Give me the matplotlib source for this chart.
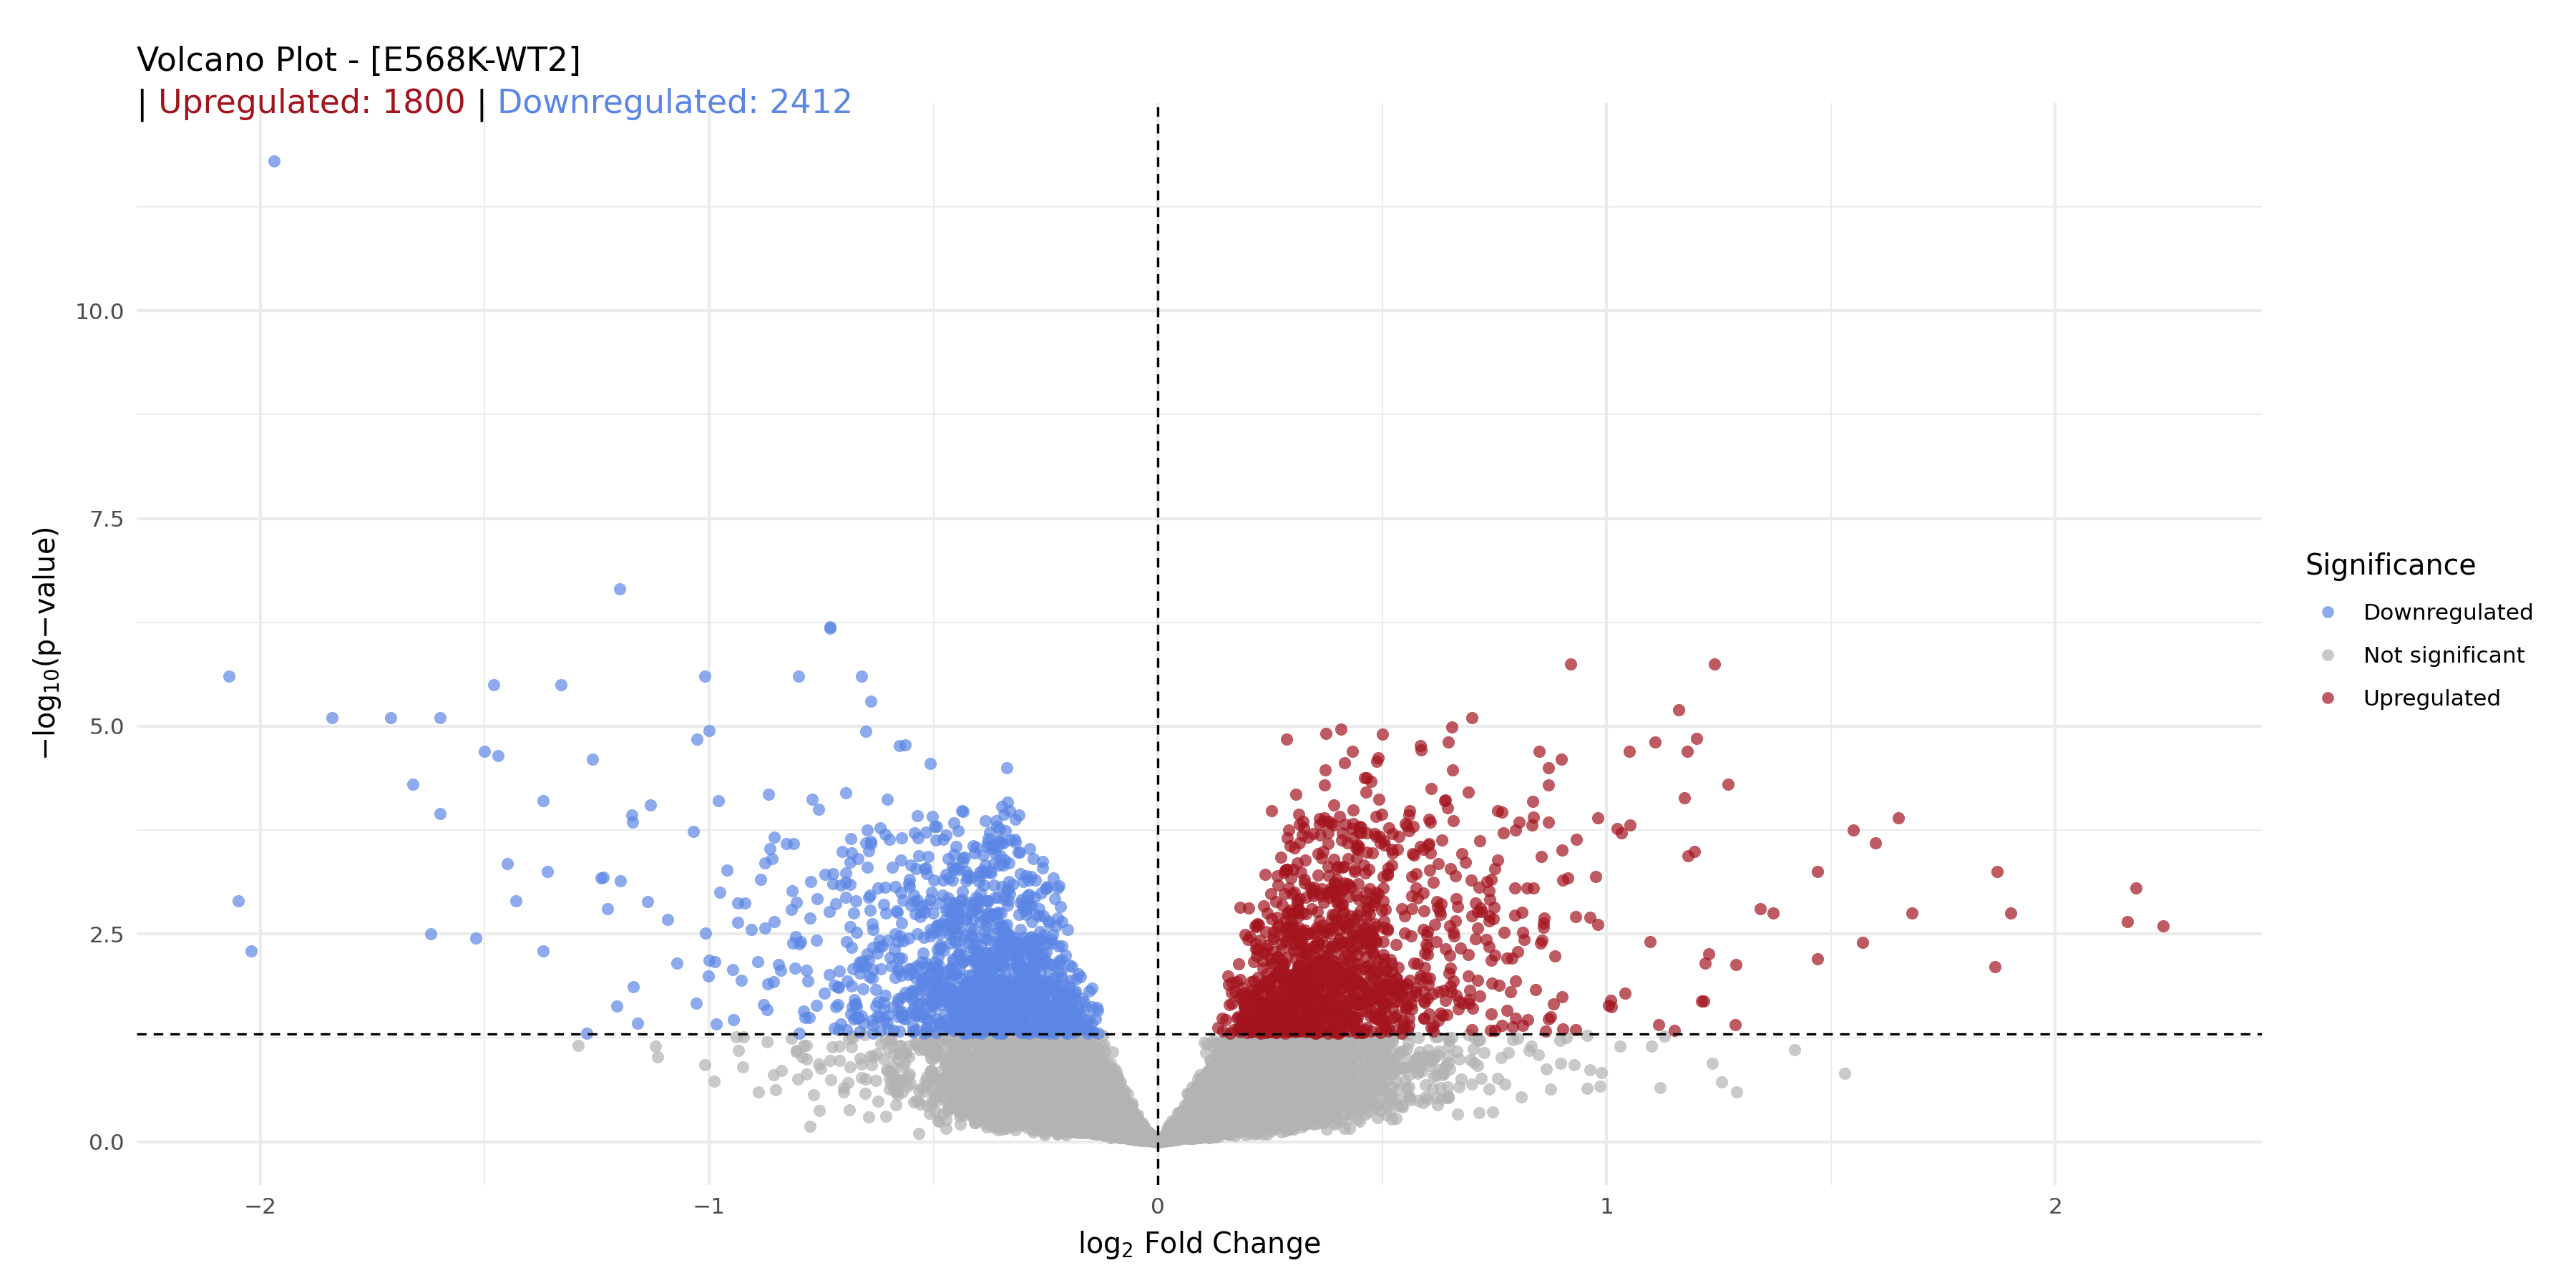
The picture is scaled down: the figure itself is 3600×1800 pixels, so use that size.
import numpy as np
import math
from matplotlib import pyplot as plt
from matplotlib.lines import Line2D

BLUE = "#5b86e5"
RED = "#a3141e"
GRAY = "#b3b3b3"
THR = -math.log10(0.05)

# outliers
out_x = [-1.97, -1.2, -0.73, -0.73, -2.07, -1.01, -1.48, -1.33, -1.84, -1.71, -1.6, -0.8, -0.66, -0.64,
         -1.66, -1.6, -1.5, -1.47, -2.05, -2.02, -1.62, -1.52, -1.37, -1.45, -1.43, -1.36, -1.37, -1.26,
         -1.13, -1.17, -1.0, -0.98,
         0.92, 1.24, 1.16, 0.7, 2.24, 2.18, 2.16, 1.9, 1.87, 1.68, 1.65, 1.6, 1.57, 1.55, 1.47, 1.47,
         1.2, 1.18, 1.27, 1.05, 0.98, 0.85, 0.87,
         1.53, 1.29, -1.12, -0.89, 1.1, 1.03, 1.12]
out_y = [11.8, 6.65, 6.2, 6.18, 5.6, 5.6, 5.5, 5.5, 5.1, 5.1, 5.1, 5.6, 5.6, 5.3,
         4.3, 3.95, 4.7, 4.65, 2.9, 2.3, 2.5, 2.45, 2.3, 3.35, 2.9, 3.25, 4.1, 4.6,
         4.05, 3.85, 4.95, 4.1,
         5.75, 5.75, 5.2, 5.1, 2.6, 3.05, 2.65, 2.75, 3.25, 2.75, 3.9, 3.6, 2.4, 3.75, 3.25, 2.2,
         4.85, 4.7, 4.3, 4.7, 3.9, 4.7, 4.5,
         0.82, 0.6, 1.15, 0.6, 1.15, 1.15, 0.65]

# bulk of genes (too dense to read point by point): shaped to match the cloud
rng = np.random.default_rng(3)
n = 16000
bx = rng.normal(0, 0.24, n) * np.where(rng.random(n) < 0.15, 2.0, 1.0)
se = 0.04 + rng.lognormal(-2.2, 0.6, n) * (1 + 1.2 * np.abs(bx))
z = np.abs(bx) / se
p = np.array([math.erfc(v / math.sqrt(2)) for v in z])
by = -np.log10(np.clip(p, 1e-300, 1))
keep = (by < 4.0) | (rng.random(n) < 0.25)
keep &= by < 5.0
bx, by = bx[keep], by[keep]

x = np.concatenate([bx, out_x])
y = np.concatenate([by, out_y])
sig = y > THR
up = sig & (x > 0)
down = sig & (x < 0)
ns = ~sig

fig = plt.figure(figsize=(12, 6), dpi=300)
ax = fig.add_axes([0.053, 0.08, 0.825, 0.84])
ax.set_xlim(-2.276, 2.46)
ax.set_ylim(-0.52, 12.5)
ax.set_xticks([-2, -1, 0, 1, 2])
ax.set_yticks([0, 2.5, 5, 7.5, 10])
ax.set_yticklabels(["0.0", "2.5", "5.0", "7.5", "10.0"])
ax.set_xticks([-1.5, -0.5, 0.5, 1.5], minor=True)
ax.set_yticks([1.25, 3.75, 6.25, 8.75, 11.25], minor=True)
ax.grid(which="major", color="#ebebeb", lw=1.0)
ax.grid(which="minor", color="#ebebeb", lw=0.5)
ax.set_axisbelow(True)
for s in ax.spines.values():
    s.set_visible(False)
ax.tick_params(which="both", length=0, labelsize=7.5, labelcolor="#4d4d4d", pad=4)

ax.scatter(x[ns], y[ns], s=17, c=GRAY, alpha=0.7, lw=0)
ax.scatter(x[down], y[down], s=17, c=BLUE, alpha=0.7, lw=0)
ax.scatter(x[up], y[up], s=17, c=RED, alpha=0.7, lw=0)
ax.axhline(THR, color="black", ls=(0, (4, 3)), lw=0.8)
ax.axvline(0, color="black", ls=(0, (4, 3)), lw=0.8)

ax.set_xlabel(r"log$_2$ Fold Change", fontsize=9.5)
ax.set_ylabel(r"$-$log$_{10}$(p$-$value)", fontsize=9.5)

handles = [Line2D([], [], marker="o", ls="", color=c, alpha=0.7, ms=4, mew=0)
           for c in [BLUE, GRAY, RED]]
leg = fig.legend(handles, ["Downregulated", "Not significant", "Upregulated"],
                 title="Significance", loc="center left", bbox_to_anchor=(0.887, 0.51),
                 frameon=False, fontsize=7.5, title_fontsize=9.5, handletextpad=0.6,
                 labelspacing=1.0, alignment="left")

fig.text(0.053, 0.945, "Volcano Plot - [E568K-WT2]", fontsize=11)
parts = [("| ", "black"), ("Upregulated: 1800", RED), (" | ", "black"), ("Downregulated: 2412", BLUE)]
fig.canvas.draw()
r = fig.canvas.get_renderer()
xpos = 0.053
for txt, col in parts:
    t = fig.text(xpos, 0.912, txt, fontsize=11, color=col)
    bb = t.get_window_extent(r)
    xpos += bb.width / fig.bbox.width

fig.savefig("out.png")
